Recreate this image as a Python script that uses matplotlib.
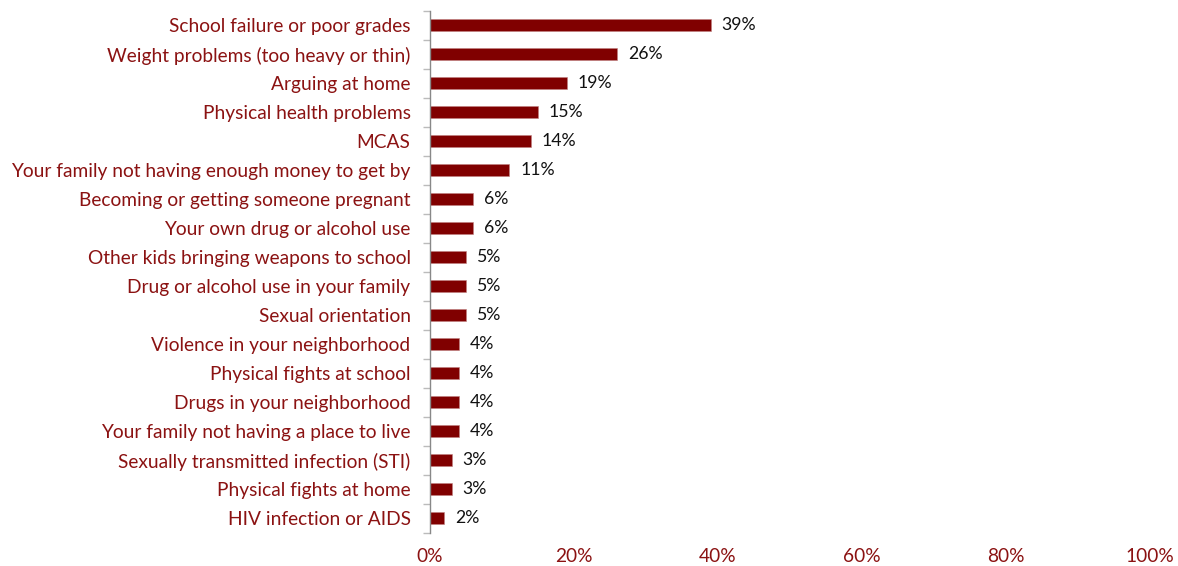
import matplotlib.pyplot as plt
import numpy as np
from matplotlib.ticker import FixedLocator, PercentFormatter

categories = [
    "School failure or poor grades",
    "Weight problems (too heavy or thin)",
    "Arguing at home",
    "Physical health problems",
    "MCAS",
    "Your family not having enough money to get by",
    "Becoming or getting someone pregnant",
    "Your own drug or alcohol use",
    "Other kids bringing weapons to school",
    "Drug or alcohol use in your family",
    "Sexual orientation",
    "Violence in your neighborhood",
    "Physical fights at school",
    "Drugs in your neighborhood",
    "Your family not having a place to live",
    "Sexually transmitted infection (STI)",
    "Physical fights at home",
    "HIV infection or AIDS",
]
values = [39, 26, 19, 15, 14, 11, 6, 6, 5, 5, 5, 4, 4, 4, 4, 3, 3, 2]
x_ticks = [0, 20, 40, 60, 80, 100]

label_color = "#8B1212"
bar_color = "#800000"
plt.rcParams["font.family"] = ["Lato", "DejaVu Sans"]

fig = plt.figure(figsize=(11.78, 5.66), dpi=100)
ax = fig.add_axes([430 / 1178, 1 - 532.5 / 566, 720 / 1178, 522 / 566])

y = np.arange(len(categories))
ax.barh(y, values, height=0.42, color=bar_color, edgecolor="#c08080", linewidth=0.4)
for yi, v in zip(y, values):
    ax.text(v + 1.5, yi, f"{v}%", va="center", ha="left", fontsize=12.7, color="#111111")

ax.set_ylim(len(categories) - 0.5, -0.5)
ax.set_xlim(0, 100)
ax.set_yticks(y)
ax.set_yticklabels(categories, fontsize=13.8, color=label_color)
ax.tick_params(axis="y", which="major", length=0, pad=14)
ax.yaxis.set_minor_locator(FixedLocator(np.arange(-0.5, len(categories), 1.0)))
ax.tick_params(axis="y", which="minor", length=5, color="#bbbbbb", width=1)

ax.xaxis.set_major_locator(FixedLocator(x_ticks))
ax.xaxis.set_major_formatter(PercentFormatter(decimals=0))
ax.tick_params(axis="x", length=0, labelsize=13.8, labelcolor=label_color, pad=11)

for side in ["top", "right", "bottom"]:
    ax.spines[side].set_visible(False)
ax.spines["left"].set_color("#888888")
ax.spines["left"].set_linewidth(1)

fig.savefig("out.png", dpi=100, facecolor="white")
